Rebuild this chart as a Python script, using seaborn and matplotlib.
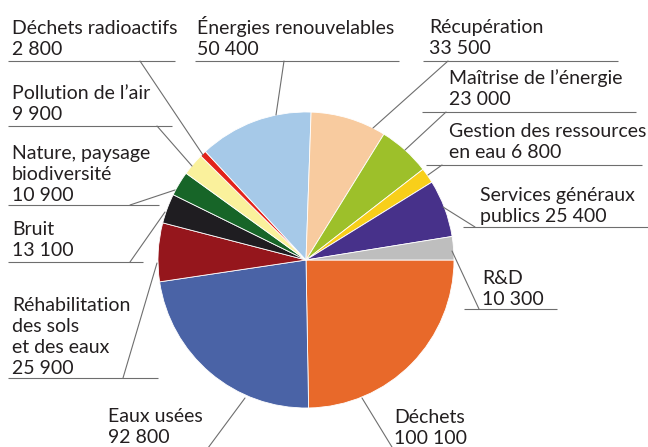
import matplotlib
matplotlib.use("Agg")
import matplotlib.pyplot as plt
import seaborn as sns

# Dépenses de protection de l'environnement par domaine
domaines = [
    "Déchets", "Eaux usées", "Réhabilitation des sols et des eaux", "Bruit",
    "Nature, paysage biodiversité", "Pollution de l'air", "Déchets radioactifs",
    "Énergies renouvelables", "Récupération", "Maîtrise de l'énergie",
    "Gestion des ressources en eau", "Services généraux publics", "R&D",
]
montants = [100100, 92800, 25900, 13100, 10900, 9900, 2800,
            50400, 33500, 23000, 6800, 25400, 10300]
couleurs = ["#E8692A", "#4A63A6", "#95161C", "#1F1D21", "#176528", "#FAF19C",
            "#E2231A", "#A6C9E8", "#F8CB9F", "#9DC02A", "#F8CF1A", "#47318A",
            "#BEBEBE"]

# Label texts (one string per line)
etiquettes = {
    "Déchets": ["Déchets", "100 100"],
    "Eaux usées": ["Eaux usées", "92 800"],
    "Réhabilitation des sols et des eaux": ["Réhabilitation", "des sols", "et des eaux", "25 900"],
    "Bruit": ["Bruit", "13 100"],
    "Nature, paysage biodiversité": ["Nature, paysage", "biodiversité", "10 900"],
    "Pollution de l'air": ["Pollution de l’air", "9 900"],
    "Déchets radioactifs": ["Déchets radioactifs", "2 800"],
    "Énergies renouvelables": ["Énergies renouvelables", "50 400"],
    "Récupération": ["Récupération", "33 500"],
    "Maîtrise de l'énergie": ["Maîtrise de l’énergie", "23 000"],
    "Gestion des ressources en eau": ["Gestion des ressources", "en eau 6 800"],
    "Services généraux publics": ["Services généraux", "publics 25 400"],
    "R&D": ["R&D", "10 300"],
}

# Layout in pixels (y from top): text x, last baseline, rule (y, x0, x1), leader (x0, y0, x1, y1)
W, H = 648, 447
layout = {
    "Déchets radioactifs": (12, 55, (61, 8, 175), (140, 61, 203, 155)),
    "Énergies renouvelables": (197, 55, (61, 195, 399), (284, 61, 276, 115)),
    "Pollution de l'air": (12, 120, (126, 8, 172), (157, 126, 192, 166)),
    "Nature, paysage biodiversité": (12, 201, (205, 8, 159), (130, 205, 175, 190)),
    "Bruit": (12, 256, (262, 8, 143), (130, 262, 165, 212)),
    "Réhabilitation des sols et des eaux": (12, 374, (378, 8, 158), (123, 378, 157, 263)),
    "Eaux usées": (108, 443, None, (205, 452, 245, 398)),
    "Déchets": (394, 444, None, (362, 398, 395, 452)),
    "R&D": (482, 305, (309, 464, 557), (479, 309, 452, 251)),
    "Services généraux publics": (480, 222, (227, 463, 648), (475, 227, 443, 207)),
    "Gestion des ressources en eau": (449, 158, (165, 426, 642), (442, 165, 428, 175)),
    "Maîtrise de l'énergie": (449, 105, (112, 422, 636), (446, 112, 405, 150)),
    "Récupération": (429, 54, (61, 423, 618), (448, 61, 373, 128)),
}

sns.set_theme(style="white")
plt.rcParams["font.family"] = ["Lato", "DejaVu Sans"]

fig = plt.figure(figsize=(W / 100, H / 100), dpi=100)
ax = fig.add_axes([0, 0, 1, 1])

palette = sns.color_palette(couleurs)
ax.pie(montants, colors=palette, startangle=0, counterclock=False,
       center=(306, H - 260), radius=148,
       wedgeprops=dict(edgecolor="white", linewidth=0.6))

ax.set_xlim(0, W)
ax.set_ylim(0, H)
ax.set_aspect("equal")
ax.axis("off")

texte = "#231F20"
trait = "#6E6E6E"
interligne = 21
for nom in domaines:
    tx, base, regle, lead = layout[nom]
    lignes = etiquettes[nom]
    for k, ligne in enumerate(reversed(lignes)):
        ax.text(tx, H - (base - interligne * k), ligne, fontsize=14,
                color=texte, ha="left", va="baseline")
    if regle is not None:
        y, x0, x1 = regle
        ax.plot([x0, x1], [H - y, H - y], color=trait, lw=0.8,
                solid_capstyle="butt")
    x0, y0, x1, y1 = lead
    ax.plot([x0, x1], [H - y0, H - y1], color=trait, lw=0.8)

fig.savefig("out.png", dpi=100)
